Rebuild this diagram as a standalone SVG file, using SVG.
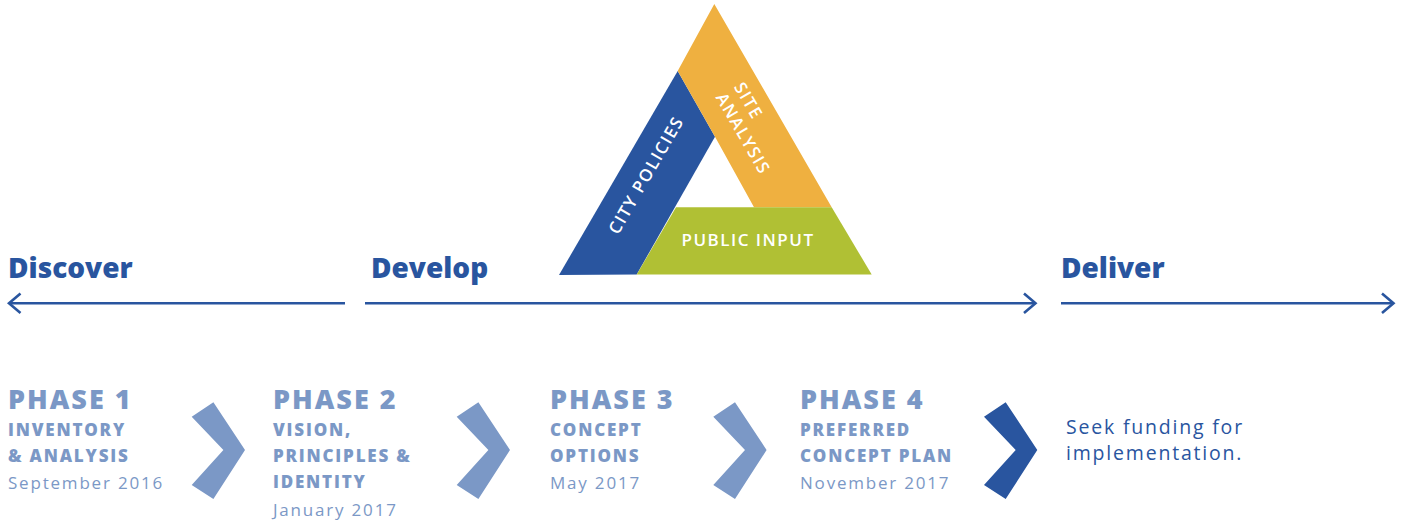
<svg xmlns="http://www.w3.org/2000/svg" width="1408" height="525" viewBox="0 0 1408 525">
<defs>
<style>
.hdr{font-family:"Open Sans","Liberation Sans",sans-serif;font-weight:800;font-size:28px;fill:#29559f}
.ph{font-family:"Open Sans","Liberation Sans",sans-serif;font-weight:800;font-size:27px;fill:#7b98c6;letter-spacing:2px}
.sub{font-family:"Open Sans","Liberation Sans",sans-serif;font-weight:800;font-size:17px;fill:#7b98c6;letter-spacing:1.8px}
.date{font-family:"Open Sans","Liberation Sans",sans-serif;font-weight:500;font-size:17px;fill:#7b98c6;letter-spacing:1.8px}
.seek{font-family:"Open Sans","Liberation Sans",sans-serif;font-weight:500;font-size:19.5px;fill:#29559f;letter-spacing:1.8px}
.tri{font-family:"Open Sans","Liberation Sans",sans-serif;font-weight:600;font-size:17px;fill:#ffffff;letter-spacing:1.5px}
.line{stroke:#29559f;stroke-width:2.6;fill:none}
.head{stroke:#29559f;stroke-width:2.6;fill:none;stroke-linecap:butt;stroke-linejoin:miter}
.chev{fill:#7b98c6}
.chevd{fill:#29559f}
</style>
</defs>
<g id="triangle">
<polygon id="blue-band" points="559,275 677.7,71 715,136.7 636.7,274.5" fill="#29559f"/>
<polygon id="orange-band" points="714.3,4 831.7,207.3 754,207.3 715,136.7 677.7,71" fill="#efb040"/>
<polygon id="green-band" points="676,207.3 831.7,207.3 871.7,274.5 636.7,274.5" fill="#b0c034"/>
<g transform="translate(646,175) rotate(-60)"><text class="tri" x="0" y="6" text-anchor="middle">CITY POLICIES</text></g>
<g transform="translate(743.5,134) rotate(60)"><text class="tri" x="-46" y="-15">SITE</text><text class="tri" x="-46" y="6">ANALYSIS</text></g>
<text class="tri" x="748" y="246" text-anchor="middle">PUBLIC INPUT</text>
</g>
<g id="discover"><text class="hdr" x="8" y="278">Discover</text></g>
<g id="develop"><text class="hdr" x="371" y="278">Develop</text></g>
<g id="deliver"><text class="hdr" x="1061" y="278">Deliver</text></g>
<g id="connectors">
<line class="line" x1="9" y1="303.3" x2="345" y2="303.3"/>
<polyline class="head" points="20.5,293.5 9,303.3 20.5,313"/>
<line class="line" x1="365" y1="303.3" x2="1035" y2="303.3"/>
<polyline class="head" points="1024,293.5 1035.5,303.3 1024,313"/>
<line class="line" x1="1061" y1="303.3" x2="1393" y2="303.3"/>
<polyline class="head" points="1382,293.5 1393.5,303.3 1382,313"/>
</g>
<g id="phase1">
<text class="ph" x="8" y="409">PHASE 1</text>
<text class="sub" x="8" y="436">INVENTORY</text>
<text class="sub" x="8" y="462">&amp; ANALYSIS</text>
<text class="date" x="8" y="488.5">September 2016</text>
</g>
<g id="phase2">
<text class="ph" x="273" y="409">PHASE 2</text>
<text class="sub" x="273" y="436">VISION,</text>
<text class="sub" x="273" y="462">PRINCIPLES &amp;</text>
<text class="sub" x="273" y="488">IDENTITY</text>
<text class="date" x="273" y="515.5">January 2017</text>
</g>
<g id="phase3">
<text class="ph" x="550" y="409">PHASE 3</text>
<text class="sub" x="550" y="436">CONCEPT</text>
<text class="sub" x="550" y="462">OPTIONS</text>
<text class="date" x="550" y="488.5">May 2017</text>
</g>
<g id="phase4">
<text class="ph" x="800" y="409">PHASE 4</text>
<text class="sub" x="800" y="436">PREFERRED</text>
<text class="sub" x="800" y="462">CONCEPT PLAN</text>
<text class="date" x="800" y="488.5">November 2017</text>
</g>
<g id="deliver-step">
<text class="seek" x="1066" y="433.5">Seek funding for</text>
<text class="seek" x="1066" y="460">implementation.</text>
</g>
<g id="chevrons">
<polygon class="chev" transform="translate(191.7,0)" points="0,416.7 21.7,402.3 53.3,450 21.7,499 0,485 31.7,450"/>
<polygon class="chev" transform="translate(456.7,0)" points="0,416.7 21.7,402.3 53.3,450 21.7,499 0,485 31.7,450"/>
<polygon class="chev" transform="translate(713.3,0)" points="0,416.7 21.7,402.3 53.3,450 21.7,499 0,485 31.7,450"/>
<polygon class="chevd" transform="translate(984,0)" points="0,416.7 21.7,402.3 53.3,450 21.7,499 0,485 31.7,450"/>
</g>
</svg>
